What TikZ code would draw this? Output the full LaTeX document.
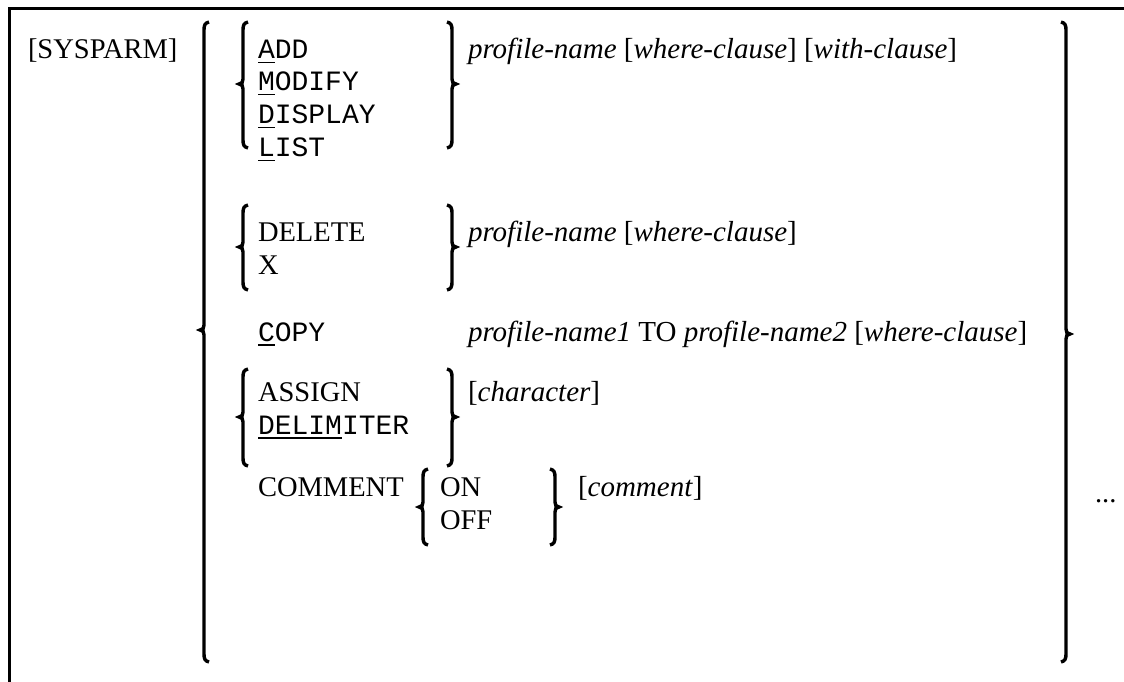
\documentclass[tikz,border=0pt]{standalone}
\usepackage{fontspec}
\setmainfont{Liberation Serif}
\setmonofont{Liberation Mono}
\newcommand\myul[1]{\setbox0\hbox{#1}\rlap{\rule[-4.5pt]{\wd0}{1.5pt}}#1}
\newcommand\lbr[5]{% name, x, top, cusp, bottom
  \draw[brace] (#2+5,#3) .. controls (#2+1,#3+1) and (#2,#3+3) .. (#2,#3+8)
    -- (#2,#4-5) .. controls (#2,#4-2) and (#2-1,#4) .. (#2-4,#4)
    .. controls (#2-1,#4) and (#2,#4+2) .. (#2,#4+5)
    -- (#2,#5-8) .. controls (#2,#5-3) and (#2+1,#5-1) .. (#2+5,#5);
  \coordinate (#1) at (#2-4,#4);}
\newcommand\rbr[5]{% name, x, top, cusp, bottom
  \draw[brace] (#2-5,#3) .. controls (#2-1,#3+1) and (#2,#3+3) .. (#2,#3+8)
    -- (#2,#4-5) .. controls (#2,#4-2) and (#2+1,#4) .. (#2+4,#4)
    .. controls (#2+1,#4) and (#2,#4+2) .. (#2,#4+5)
    -- (#2,#5-8) .. controls (#2,#5-3) and (#2-1,#5-1) .. (#2-5,#5);
  \coordinate (#1) at (#2+4,#4);}
\begin{document}
\begin{tikzpicture}[x=1pt,y=-1pt,
  brace/.style={line width=3.4pt,line cap=butt,line join=miter},
  txt/.style={anchor=base west,inner sep=0pt,outer sep=0pt,font=\fontsize{28.5}{34}\selectfont},
  ptxt/.style={txt,font=\fontsize{29}{34}\selectfont},
  mono/.style={anchor=base west,inner sep=0pt,outer sep=0pt,font=\fontsize{28}{34}\selectfont\ttfamily},
  border/.style={line width=3pt}]
\useasboundingbox (0,0) rectangle (1124,682);
% table border
\coordinate (tl) at (9.5,8.5);
\coordinate (tr) at (1124,8.5);
\coordinate (bl) at (9.5,682);
\draw[border] (tr) -- (tl) -- (bl);
% label
\node[txt] (sysparm) at (28,59) {[SYSPARM]};
% big braces
\lbr{bigL}{204}{22}{330}{662}
\rbr{bigR}{1066}{22}{334}{662}
% group 1
\lbr{g1L}{243}{22}{84}{148}
\rbr{g1R}{452}{22}{84}{148}
\node[mono] (add) at (258,59) {\myul{A}DD};
\node[mono] (modify) at (258,91) {\myul{M}ODIFY};
\node[mono] (display) at (258,124) {\myul{D}ISPLAY};
\node[mono] (list) at (258,157) {\myul{L}IST};
\node[ptxt] (p1) at (468,59) {\textit{profile-name} [\textit{where-clause}] [\textit{with-clause}]};
% group 2
\lbr{g2L}{243}{205}{247}{290}
\rbr{g2R}{452}{205}{247}{290}
\node[txt] (delete) at (258,241) {DELETE};
\node[txt] (x) at (258,274) {X};
\node[ptxt] (p2) at (468,241) {\textit{profile-name} [\textit{where-clause}]};
% copy
\node[mono] (copy) at (258,341) {\myul{C}OPY};
\node[ptxt] (p3) at (468,341) {\textit{profile-name1} TO \textit{profile-name2} [\textit{where-clause}]};
% group 3
\lbr{g3L}{243}{369}{417}{466}
\rbr{g3R}{452}{369}{417}{466}
\node[txt] (assign) at (258,401) {ASSIGN};
\node[mono] (delim) at (258,434) {\myul{DELIM}ITER};
\node[ptxt] (p4) at (468,401) {[\textit{character}]};
% group 4
\node[txt] (comment) at (258,496) {COMMENT};
\lbr{g4L}{423}{469}{507}{545}
\rbr{g4R}{555}{469}{507}{545}
\node[txt] (on) at (440,496) {ON};
\node[txt] (off) at (440,529) {OFF};
\node[ptxt] (p5) at (578,496) {[\textit{comment}]};
% repeat
\node[txt] (dots) at (1095,502) {...};
\end{tikzpicture}
\end{document}
